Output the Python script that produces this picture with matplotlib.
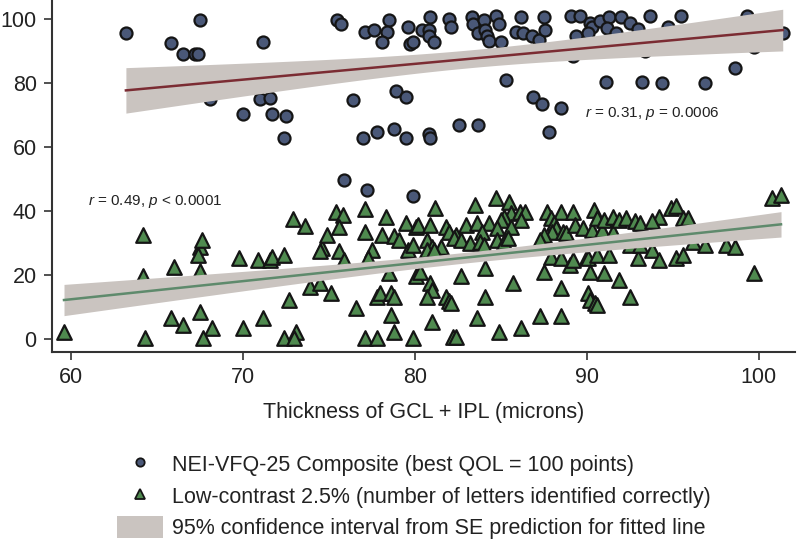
import numpy as np
import matplotlib
matplotlib.use("Agg")
import matplotlib.pyplot as plt
from matplotlib.lines import Line2D
from matplotlib.patches import Patch

# NEI-VFQ-25 composite scores (circles)
vfq_x = [63.2, 65.8, 67.5, 66.5, 67.2, 67.4, 71.2, 68.1, 71.0, 71.6, 70.0, 71.7, 72.5, 72.4,
         75.5, 75.7, 77.1, 77.6, 78.5, 78.4, 78.1, 79.6, 79.7, 79.9, 80.4, 80.8, 80.9, 80.8,
         81.1, 76.4, 78.9, 79.5, 77.0, 77.8, 78.8, 79.5, 80.8, 80.9, 75.9, 77.2, 79.9, 82.0,
         82.1, 83.3, 83.4, 83.7, 84.0, 84.1, 84.2, 84.3, 84.7, 84.9, 85.0, 86.2, 85.9, 86.3,
         86.8, 87.2, 87.5, 87.6, 85.3, 86.9, 87.4, 88.5, 82.6, 83.7, 87.8, 89.1, 89.6, 90.2,
         90.3, 90.1, 89.4, 89.2, 90.8, 91.3, 91.2, 91.7, 92.0, 92.5, 93.0, 93.7, 94.7, 95.5,
         93.4, 99.3, 99.7, 101.4, 98.6, 91.1, 93.2, 94.4, 96.9, 99.4]
vfq_y = [95.5, 92.6, 99.5, 89.0, 89.0, 89.0, 92.7, 75.1, 74.9, 75.2, 70.2, 70.2, 69.5, 62.8,
         99.5, 98.4, 96.0, 96.6, 99.7, 96.0, 92.7, 97.6, 92.1, 92.9, 96.6, 96.6, 100.7, 94.6,
         92.9, 74.8, 77.6, 75.7, 62.8, 64.5, 65.5, 62.8, 63.9, 62.9, 49.7, 46.5, 44.5, 99.9,
         97.6, 100.7, 98.4, 95.5, 99.5, 96.6, 94.5, 93.0, 100.8, 98.3, 92.9, 100.7, 95.9, 95.5,
         94.5, 93.4, 100.7, 96.6, 80.9, 75.7, 73.4, 72.1, 66.8, 66.8, 64.5, 100.8, 100.8, 98.6,
         97.6, 95.5, 94.5, 88.5, 99.2, 100.7, 97.3, 95.5, 100.7, 98.7, 96.9, 100.9, 97.6, 100.9,
         90.1, 100.9, 91.3, 95.5, 84.8, 80.4, 80.4, 80.1, 80.1, 98.5]

# Low-contrast 2.5% letters (triangles)
lc_x = [59.6, 64.2, 64.2, 64.3, 66.0, 65.8, 66.5, 67.5, 67.6, 67.4, 67.5, 67.5, 68.2, 67.7,
        69.8, 70.0, 70.9, 71.6, 71.7, 72.4, 71.2, 72.7, 72.4, 73.1, 73.0, 72.9, 73.6, 73.9,
        74.5, 74.6, 74.5, 74.9, 75.1, 75.4, 75.8, 75.6, 75.6, 75.9, 76.6, 77.1, 77.1, 77.1,
        77.8, 77.5, 77.3, 78.3, 78.1, 78.8, 78.5, 77.8, 78.0, 78.6, 78.8, 78.6, 78.8, 79.9,
        79.5, 80.1, 79.6, 79.9, 80.1, 80.2, 80.9, 80.7, 81.0, 81.5, 80.7, 81.1, 81.2, 81.8,
        82.0, 82.4, 80.3, 80.9, 81.0, 80.7, 81.8, 82.0, 81.0, 82.2, 83.5, 84.7, 85.5, 85.6,
        85.2, 85.0, 86.1, 86.4, 86.2, 83.0, 83.6, 84.3, 83.9, 84.8, 85.6, 82.3, 82.7, 83.2,
        83.8, 84.0, 84.8, 85.2, 85.4, 87.7, 88.5, 89.2, 87.9, 88.1, 88.2, 88.0, 87.5, 87.3,
        88.6, 88.8, 89.3, 89.8, 90.3, 90.4, 90.6, 90.9, 91.5, 91.0, 91.5, 91.9, 92.3, 92.8,
        87.9, 88.5, 89.0, 89.2, 90.0, 90.1, 90.6, 91.3, 93.0, 84.1, 82.7, 87.5, 90.2, 91.0,
        91.9, 85.7, 88.5, 84.1, 82.1, 90.1, 90.2, 90.5, 90.6, 92.5, 83.6, 87.3, 88.5, 84.9,
        86.2, 82.4, 94.2, 94.9, 95.2, 95.6, 95.9, 93.1, 93.8, 92.5, 93.1, 93.8, 94.2, 95.2,
        95.6, 96.2, 96.9, 98.1, 98.6, 99.7, 100.8, 101.3, 79.1]
lc_y = [2.3, 32.5, 19.5, 0.2, 22.4, 6.5, 4.4, 28.8, 30.9, 26.3, 21.3, 8.5, 3.3, 0.2,
        25.4, 3.3, 24.7, 24.7, 25.7, 26.3, 6.5, 12.2, 0.2, 2.3, 0.2, 37.4, 35.3, 16.3,
        17.4, 28.3, 27.6, 32.5, 14.3, 39.5, 38.8, 35.1, 27.6, 24.7, 9.6, 40.5, 33.5, 0.2,
        0.2, 27.8, 25.2, 38.2, 32.5, 32.0, 20.5, 13.2, 14.3, 14.3, 13.2, 7.5, 2.3, 0.2,
        36.2, 35.1, 27.8, 29.4, 19.5, 35.6, 35.6, 30.9, 28.8, 28.8, 27.8, 27.8, 40.8, 35.1,
        33.5, 32.5, 21.0, 17.4, 15.3, 13.2, 13.2, 11.7, 5.4, 0.7, 41.9, 44.0, 42.9, 39.3,
        38.2, 37.2, 39.8, 39.8, 37.2, 35.6, 36.2, 36.2, 33.5, 34.6, 35.1, 31.5, 30.9, 29.9,
        30.4, 29.4, 30.9, 30.4, 31.5, 39.8, 39.8, 39.8, 37.7, 36.2, 34.6, 33.5, 32.5, 30.9,
        33.5, 33.0, 35.6, 34.6, 34.1, 40.3, 37.7, 34.1, 33.5, 37.2, 38.2, 37.2, 37.7, 36.7,
        25.7, 25.2, 23.1, 24.7, 25.7, 25.2, 26.3, 26.3, 25.2, 22.1, 19.5, 21.0, 21.0, 20.5,
        18.4, 17.4, 15.8, 13.2, 11.2, 14.3, 12.2, 11.2, 10.6, 13.2, 6.5, 7.0, 7.0, 2.3,
        3.3, 0.7, 38.2, 40.8, 41.4, 37.7, 37.7, 36.2, 36.7, 29.4, 29.4, 27.8, 24.7, 25.2,
        26.3, 30.4, 29.4, 29.4, 28.8, 20.5, 44.0, 45.0, 30.9]

x_ticks = [60, 70, 80, 90, 100]
y_ticks = [0, 20, 40, 60, 80, 100]

plt.rcParams['font.family'] = ['Liberation Sans', 'DejaVu Sans']
plt.rcParams['mathtext.fontset'] = 'custom'
plt.rcParams['mathtext.it'] = 'Liberation Sans:italic'
plt.rcParams['mathtext.rm'] = 'Liberation Sans'

BAND = "#cac4c0"
AX = "#333333"
TXT = "#222222"
FS = 15.5


def fit_band(x, y):
    # OLS fit with 95% CI of the predicted mean
    x = np.asarray(x); y = np.asarray(y)
    b, a = np.polyfit(x, y, 1)
    n = len(x)
    resid = y - (a + b * x)
    s = np.sqrt(np.sum(resid ** 2) / (n - 2))
    xs = np.linspace(x.min(), x.max(), 200)
    yhat = a + b * xs
    se = s * np.sqrt(1 / n + (xs - x.mean()) ** 2 / np.sum((x - x.mean()) ** 2))
    return xs, yhat, yhat - 1.98 * se, yhat + 1.98 * se


fig = plt.figure(figsize=(7.97, 5.48), dpi=100)
ax = fig.add_axes([0.0652, 0.3577, 0.932, 0.6423])

ax.scatter(vfq_x, vfq_y, marker="o", s=75, facecolor="#4a5878", edgecolor="#151515",
           linewidth=1.6, zorder=2)
ax.scatter(lc_x, lc_y, marker="^", s=110, facecolor="#4f8a4f", edgecolor="#151515",
           linewidth=1.6, zorder=2)

xs, yh, lo, hi = fit_band(vfq_x, vfq_y)
ax.fill_between(xs, lo, hi, color=BAND, lw=0, zorder=3)
ax.plot(xs, yh, color="#7b2c33", lw=1.8, zorder=4)

xs, yh, lo, hi = fit_band(lc_x, lc_y)
ax.fill_between(xs, lo, hi, color=BAND, lw=0, zorder=3)
ax.plot(xs, yh, color="#5e8a6c", lw=1.8, zorder=4)

ax.text(89.9, 70.5, r"$\it{r}$ = 0.31, $\it{p}$ = 0.0006", fontsize=11,
        color=TXT, va="center")
ax.text(61.0, 42.8, r"$\it{r}$ = 0.49, $\it{p}$ < 0.0001", fontsize=11,
        color=TXT, va="center")

ax.set_xlim(58.9, 102.1)
ax.set_ylim(-4.1, 105.9)
ax.set_xticks(x_ticks)
ax.set_yticks(y_ticks)
ax.tick_params(direction="out", length=6, width=1.2, color=AX, labelsize=FS,
               labelcolor=TXT, pad=5)
for side in ["top", "right"]:
    ax.spines[side].set_visible(False)
for side in ["left", "bottom"]:
    ax.spines[side].set_color(AX)
    ax.spines[side].set_linewidth(1.5)

ax.set_xlabel("Thickness of GCL + IPL (microns)", fontsize=FS, color=TXT, labelpad=10)

handles = [
    Line2D([], [], ls="none", marker="o", ms=6, mfc="#4a5878", mec="#151515", mew=1.3),
    Line2D([], [], ls="none", marker="^", ms=7, mfc="#4f8a4f", mec="#151515", mew=1.3),
    Patch(facecolor=BAND, edgecolor="none"),
]
labels = [
    "NEI-VFQ-25 Composite (best QOL = 100 points)",
    "Low-contrast 2.5% (number of letters identified correctly)",
    "95% confidence interval from SE prediction for fitted line",
]
fig.legend(handles, labels, loc="upper left", bbox_to_anchor=(0.147, 0.173),
           frameon=False, fontsize=FS, handlelength=2.14, handleheight=1.2,
           handletextpad=0.42, labelspacing=0.37, borderpad=0, borderaxespad=0,
           labelcolor=TXT)

fig.savefig("out.png", dpi=100)
